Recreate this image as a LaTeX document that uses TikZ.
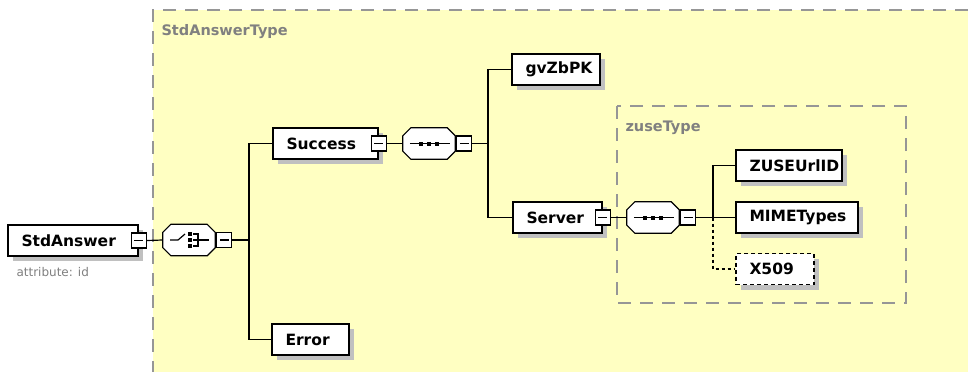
\documentclass[tikz,border=0pt]{standalone}
\usepackage{fontspec}
\setmainfont{DejaVu Sans}
\usetikzlibrary{shadows,calc}

\definecolor{typefill}{RGB}{255,255,194}
\definecolor{typeline}{RGB}{150,150,150}
\definecolor{typetext}{RGB}{128,128,128}
\definecolor{shade}{RGB}{192,192,192}

\tikzset{
  x=1pt, y=-1pt,
  wire/.style={draw=black, line width=1.2pt},
  optwire/.style={wire, dash pattern=on 3pt off 3pt},
  elem/.style={draw=black, line width=1.5pt, fill=white, minimum height=31,
    inner ysep=0, inner xsep=13.5, anchor=center,
    font=\bfseries\fontsize{15.5}{18}\selectfont,
    general shadow={fill=shade, shadow xshift=5pt, shadow yshift=-5pt}},
  optelem/.style={elem, dash pattern=on 4pt off 3pt},
  minusbox/.style={draw=black, line width=1.2pt, fill=white, minimum size=15,
    inner sep=0,
    path picture={\draw[line width=1.2pt]
      ([xshift=3]path picture bounding box.west) --
      ([xshift=-3]path picture bounding box.east);}},
  compbox/.style={minimum width=52, minimum height=31, inner sep=0},
  typeframe/.style={draw=typeline, line width=1.5pt, dash pattern=on 13pt off 9pt},
  typelabel/.style={anchor=west, text=typetext,
    font=\bfseries\fontsize{14.5}{16}\selectfont},
}

% octagonal compositor outline with its shadow, drawn around a node
\newcommand\octoshape[2]{%
  \path[#2] ([xshift=8]#1.north west) -- ([xshift=-8]#1.north east) --
    ([yshift=-8]#1.north east) -- ([yshift=8]#1.south east) --
    ([xshift=-8]#1.south east) -- ([xshift=8]#1.south west) --
    ([yshift=8]#1.south west) -- ([yshift=-8]#1.north west) -- cycle;}
\newcommand\octagon[1]{%
  \begin{scope}[shift={(5,5)}]\octoshape{#1}{fill=shade}\end{scope}%
  \octoshape{#1}{draw=black, line width=1.2pt, fill=white}}

\begin{document}
\begin{tikzpicture}
\useasboundingbox (0,0) rectangle (968,372);
\fill[white] (0,0) rectangle (968,372);

% complex type area of the root element
\fill[typefill] (153,10) rectangle (968,372);
\draw[typeframe] (968,10) -- (153,10) -- (153,372);
\node[typelabel] (tlabel) at (158,32) {StdAnswerType};

% nested complex type of Server
\draw[typeframe] (617,106) rectangle (906,303);
\node[typelabel] (zlabel) at (622,128) {zuseType};

% root element
\node[elem, minimum width=130] (root) at (73,240.5)
  {\makebox[103pt][l]{StdAnswer}};
\node[minusbox] (rootm) at (root.east) {};
\node[anchor=west, text=typetext, font=\fontsize{12}{14}\selectfont]
  (attr) at (13,272) {attribute: id};

% choice compositor
\node[compbox] (choice) at (189,240) {};
\octagon{choice}
\node[minusbox, anchor=west] (choicem) at ([xshift=1]choice.east) {};
\begin{scope}[line width=1.2pt]
  \draw (170,240) -- (178,240) -- (185,234);
  \fill (188,232) rectangle (192,236);
  \fill (188,238) rectangle (192,242);
  \fill (188,244) rectangle (192,248);
  \draw (193,234) -- (198,234) -- (198,246) -- (193,246);
  \draw (193,240) -- (209,240);
\end{scope}

% children of the choice
\node[elem, minimum width=105] (succ) at (325.5,143.5)
  {\makebox[78pt][l]{Success}};
\node[minusbox] (succm) at (succ.east) {};
\node[elem, minimum width=77] (err) at (310.5,339.5)
  {\makebox[50pt][l]{Error}};

\coordinate (j1) at (249,0);
\draw[wire] (rootm.east) -- (choice.west);
\draw[wire] (choicem.east) -- (choicem.east -| j1);
\draw[wire] (succ.west) -- (succ.west -| j1) -- (err.west -| j1) -- (err.west);

% sequence inside Success
\node[compbox] (seq1) at (429,143.5) {};
\octagon{seq1}
\node[minusbox, anchor=west] (seq1m) at ([xshift=1]seq1.east) {};
\draw[wire] ([xshift=7]seq1.west) -- ([xshift=-5]seq1.east);
\foreach \dx in {-8,0,8}
  \fill ([xshift=\dx-2, yshift=2]seq1.center) rectangle ++(4,4);
\draw[wire] (succm.east) -- (seq1.west);

\node[elem, minimum width=88] (gv) at (556,69.5)
  {\makebox[61pt][l]{gvZbPK}};
\node[elem, minimum width=89] (srv) at (557.5,217.5)
  {\makebox[62pt][l]{Server}};
\node[minusbox] (srvm) at (srv.east) {};

\coordinate (j2) at (488,0);
\draw[wire] (seq1m.east) -- (seq1m.east -| j2);
\draw[wire] (gv.west) -- (gv.west -| j2) -- (srv.west -| j2) -- (srv.west);

% sequence inside Server
\node[compbox] (seq2) at (653,217.5) {};
\octagon{seq2}
\node[minusbox, anchor=west] (seq2m) at ([xshift=1]seq2.east) {};
\draw[wire] ([xshift=7]seq2.west) -- ([xshift=-5]seq2.east);
\foreach \dx in {-8,0,8}
  \fill ([xshift=\dx-2, yshift=2]seq2.center) rectangle ++(4,4);
\draw[wire] (srvm.east) -- (seq2.west);

\node[elem, minimum width=106] (zuse) at (789,165.5)
  {\makebox[79pt][l]{ZUSEUrlID}};
\node[elem, minimum width=122] (mime) at (797,217.5)
  {\makebox[95pt][l]{MIMETypes}};
\node[optelem, minimum width=78] (x509) at (775,269)
  {\makebox[51pt][l]{X509}};

\coordinate (j3) at (713,0);
\draw[wire] (seq2m.east) -- (mime.west);
\draw[wire] (zuse.west) -- (zuse.west -| j3) -- (mime.west -| j3);
\draw[optwire] (mime.west -| j3) -- (x509.west -| j3) -- (x509.west);
\end{tikzpicture}
\end{document}
